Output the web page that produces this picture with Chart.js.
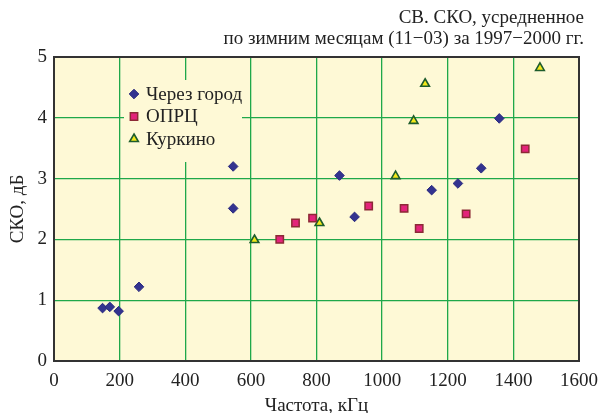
<!DOCTYPE html>
<html>
<head>
<meta charset="utf-8">
<script src="https://cdn.jsdelivr.net/npm/chart.js@4.4.0/dist/chart.umd.min.js"></script>
<style>
  html, body { margin: 0; padding: 0; background: #fff; }
  #wrap { width: 608px; height: 413px; position: relative; }
</style>
</head>
<body>
<div id="wrap"><canvas id="chart"></canvas></div>
<script>
// data
const seriesNames = ["Через город", "ОПРЦ", "Куркино"];
const cityX = [148, 170, 197, 259, 546, 546, 870, 916, 1151, 1231, 1302, 1357];
const cityY = [0.87, 0.89, 0.82, 1.22, 3.20, 2.51, 3.05, 2.37, 2.81, 2.92, 3.17, 3.99];
const oprcX = [688, 736, 788, 959, 1067, 1113, 1256, 1436];
const oprcY = [2.00, 2.27, 2.35, 2.55, 2.51, 2.18, 2.42, 3.49];
const kurkX = [611, 809, 1041, 1096, 1131, 1481];
const kurkY = [1.99, 2.27, 3.04, 3.95, 4.56, 4.82];
const titleLines = ["СВ. СКО, усредненное", "по зимним месяцам (11\u221203) за 1997\u22122000 гг."];
const xTitle = "Частота, кГц";
const yTitle = "СКО, дБ";

const serif = "'Liberation Serif', 'DejaVu Serif', serif";
const fontSize = 19;
const gridGreen = "#1fa84a";
const plotBg = "#fef9d6";

const toPoints = (xs, ys) => xs.map((x, i) => ({ x: x, y: ys[i] }));

// background, frame, title and in-plot legend
const decor = {
  id: "decor",
  beforeDraw(chart) {
    const { ctx, chartArea: a } = chart;
    ctx.save();
    ctx.fillStyle = plotBg;
    ctx.fillRect(a.left, a.top, a.right - a.left, a.bottom - a.top);
    ctx.restore();
  },
  beforeDatasetsDraw(chart) {
    const { ctx } = chart;
    ctx.save();
    // legend box hides the grid
    ctx.fillStyle = plotBg;
    ctx.fillRect(124, 80, 118, 82);
    ctx.font = fontSize + "px " + serif;
    ctx.textBaseline = "middle";
    chart.data.datasets.forEach((ds, i) => {
      const y = 94 + i * 22.5;
      ctx.fillStyle = ds.backgroundColor;
      ctx.strokeStyle = ds.borderColor;
      ctx.lineWidth = ds.borderWidth;
      Chart.helpers.drawPoint(ctx, { pointStyle: ds.pointStyle, radius: ds.pointRadius, borderWidth: ds.borderWidth }, 134, y);
      ctx.fillStyle = "#222";
      ctx.fillText(ds.label, 146, y + 1);
    });
    ctx.restore();
  },
  afterDraw(chart) {
    const { ctx, chartArea: a } = chart;
    ctx.save();
    ctx.strokeStyle = "#333";
    ctx.lineWidth = 2;
    ctx.strokeRect(a.left, a.top, a.right - a.left, a.bottom - a.top);
    ctx.font = fontSize + "px " + serif;
    ctx.fillStyle = "#222";
    ctx.textAlign = "right";
    ctx.textBaseline = "middle";
    ctx.fillText(titleLines[0], 584, 18);
    ctx.fillText(titleLines[1], 584, 39);
    ctx.restore();
  }
};

new Chart(document.getElementById("chart"), {
  type: "scatter",
  data: {
    datasets: [
      {
        label: seriesNames[0],
        data: toPoints(cityX, cityY),
        pointStyle: "rectRot",
        pointRadius: 4.8,
        backgroundColor: "#33338f",
        borderColor: "#2b2b80",
        borderWidth: 1
      },
      {
        label: seriesNames[1],
        data: toPoints(oprcX, oprcY),
        pointStyle: "rect",
        pointRadius: 5.2,
        backgroundColor: "#e3237a",
        borderColor: "#8c2a36",
        borderWidth: 1.5
      },
      {
        label: seriesNames[2],
        data: toPoints(kurkX, kurkY),
        pointStyle: "triangle",
        pointRadius: 5,
        backgroundColor: "#f3e81a",
        borderColor: "#1d5c2c",
        borderWidth: 1.6
      }
    ]
  },
  options: {
    responsive: true,
    maintainAspectRatio: false,
    animation: false,
    layout: { padding: { left: 0, right: 29, top: 57, bottom: -4 } },
    plugins: {
      legend: { display: false },
      tooltip: { enabled: false }
    },
    scales: {
      x: {
        type: "linear",
        min: 0,
        max: 1600,
        ticks: { stepSize: 200, color: "#222", font: { family: serif, size: fontSize }, padding: 9, callback: v => String(v) },
        grid: { color: gridGreen, lineWidth: 1.3, drawTicks: false },
        border: { display: false },
        title: { display: true, text: xTitle, color: "#222", font: { family: serif, size: fontSize }, padding: { top: 5, bottom: 0 } },
        afterFit: s => { s.height = 56; }
      },
      y: {
        min: 0,
        max: 5,
        ticks: { stepSize: 1, color: "#222", font: { family: serif, size: fontSize }, padding: 7, callback: v => String(v) },
        grid: { color: gridGreen, lineWidth: 1.3, drawTicks: false },
        border: { display: false },
        title: { display: true, text: yTitle, color: "#222", font: { family: serif, size: fontSize }, padding: { top: 7, bottom: 0 } },
        afterFit: s => { s.width = 54; }
      }
    }
  },
  plugins: [decor]
});
</script>
</body>
</html>
